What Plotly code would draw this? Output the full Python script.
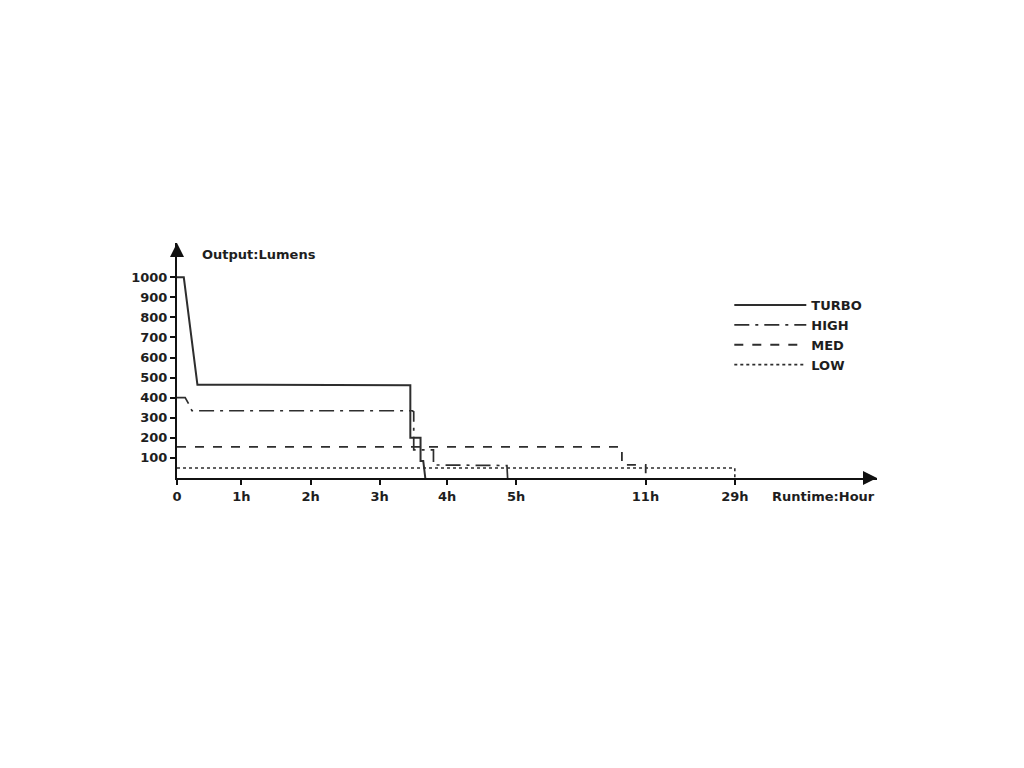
import plotly.graph_objects as go

# Axis positions (x in "axis units"; ticks are not evenly spaced in hours)
TICK_POS = [0, 0.946, 1.965, 2.979, 3.971, 4.985, 6.887, 8.2]
TICK_TEXT = ["0", "1h", "2h", "3h", "4h", "5h", "11h", "29h"]
Y_TICKS = [100, 200, 300, 400, 500, 600, 700, 800, 900, 1000]

TURBO_X = [0, 0.10, 0.30, 3.43, 3.43, 3.58, 3.58, 3.62, 3.65]
TURBO_Y = [1000, 1000, 465, 462, 200, 200, 85, 85, 0]

HIGH_X = [0, 0.12, 0.17, 0.22, 3.46, 3.48, 3.48, 3.77, 3.77, 4.85, 4.86]
HIGH_Y = [400, 400, 370, 335, 335, 330, 140, 140, 65, 62, 0]

MED_X = [0, 6.54, 6.54, 6.89, 6.89]
MED_Y = [155, 155, 65, 65, 0]

LOW_X = [0, 8.2, 8.2]
LOW_Y = [50, 50, 0]

SERIES = [
    ("TURBO", TURBO_X, TURBO_Y, "solid", 2),
    ("HIGH", HIGH_X, HIGH_Y, "longdashdot", 1.7),
    ("MED", MED_X, MED_Y, "dash", 1.8),
    ("LOW", LOW_X, LOW_Y, "dot", 1.6),
]

FONT = "DejaVu Sans"
INK = "#1e1e1e"
FS = 13

def bold(s):
    return "<b>" + s + "</b>"

fig = go.Figure()
for name, xs, ys, dash, w in SERIES:
    fig.add_trace(go.Scatter(x=xs, y=ys, mode="lines", name=bold(name),
                             line=dict(color="#2e2e2e", width=w, dash=dash)))

fig.update_layout(
    width=1024, height=768,
    margin=dict(l=169, r=155, t=235, b=298),
    paper_bgcolor="white", plot_bgcolor="white",
    font=dict(family=FONT, size=FS, color=INK),
    showlegend=True,
    legend=dict(x=0.789, y=0.80, xanchor="left", yanchor="top",
                font=dict(family=FONT, size=13, color=INK),
                itemwidth=72, bgcolor="rgba(0,0,0,0)"),
    xaxis=dict(range=[0, 10.29], tickvals=TICK_POS, ticktext=[bold(t) for t in TICK_TEXT],
               showline=True, linecolor="#111111", linewidth=2,
               ticks="outside", ticklen=5, tickwidth=1.5, tickcolor="#111111",
               showgrid=False, zeroline=False,
               tickfont=dict(family=FONT, size=FS, color=INK)),
    yaxis=dict(range=[0, 1170.6], tickvals=Y_TICKS, ticktext=[bold(str(v)) for v in Y_TICKS],
               showline=True, linecolor="#111111", linewidth=2,
               ticks="outside", ticklen=5, tickwidth=1.5, tickcolor="#111111",
               showgrid=False, zeroline=False,
               tickfont=dict(family=FONT, size=FS, color=INK)),
    annotations=[
        dict(x=0, y=1, xref="paper", yref="paper", ax=0, ay=14,
             text="", showarrow=True, arrowhead=2, arrowsize=1.4, arrowwidth=2, arrowcolor="#111111"),
        dict(x=1, y=0, xref="paper", yref="paper", ax=-14, ay=0,
             text="", showarrow=True, arrowhead=2, arrowsize=1.4, arrowwidth=2, arrowcolor="#111111"),
        dict(x=0.033, y=0.949, xref="paper", yref="paper", xanchor="left", yanchor="middle",
             text=bold("Output:Lumens"), showarrow=False, font=dict(family=FONT, size=FS, color=INK)),
        dict(x=1.0, y=-0.08, xref="paper", yref="paper", xanchor="right", yanchor="middle",
             text=bold("Runtime:Hour"), showarrow=False, font=dict(family=FONT, size=FS, color=INK)),
    ],
)

fig.write_html("out.html")
